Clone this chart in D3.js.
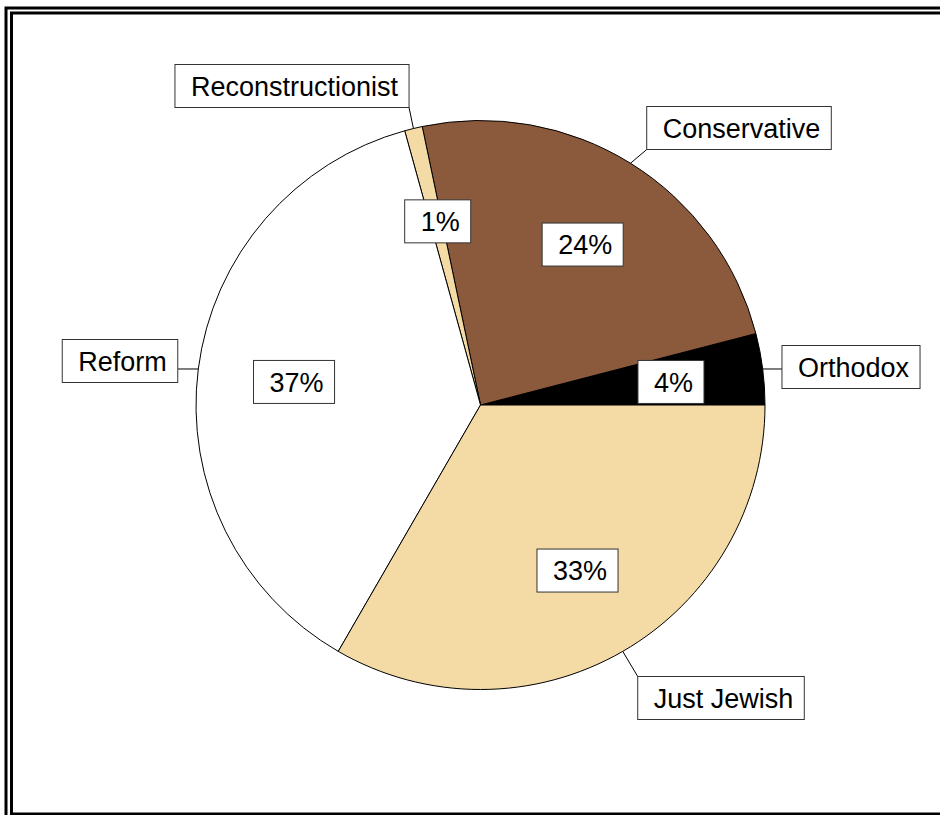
<!DOCTYPE html>
<html>
<head>
<meta charset="utf-8">
<script src="https://cdn.jsdelivr.net/npm/d3@7"></script>
<style>
  html, body { margin: 0; padding: 0; background: #fff; }
  svg { display: block; }
</style>
</head>
<body>
<svg id="chart" width="940" height="815"></svg>
<script>
// Denominations, in drawing order (counter-clockwise from 3 o'clock)
const categories = ["Orthodox", "Conservative", "Reconstructionist", "Reform", "Just Jewish"];
const values = [4, 24, 1, 37, 33];
const valueLabels = ["4%", "24%", "1%", "37%", "33%"];

// Presentation
const colors = ["#000000", "#8B5A3C", "#F4DBA6", "#FFFFFF", "#F4DBA6"];
const nameBoxCenters = [[851, 367], [739, 128], [292, 86], [120, 361], [721, 698]];

const W = 940, H = 815;
const cx = 480.5, cy = 405, R = 284.5;
const fontSize = 27, boxH = 43;

const svg = d3.select("#chart");

// Double frame
svg.append("rect").attr("x", 6).attr("y", 8).attr("width", W + 20).attr("height", H + 20)
  .attr("fill", "none").attr("stroke", "#000").attr("stroke-width", 3);
svg.append("rect").attr("x", 11.5).attr("y", 13).attr("width", W + 20).attr("height", 801)
  .attr("fill", "none").attr("stroke", "#000").attr("stroke-width", 3);

const pie = d3.pie().sort(null)
  .startAngle(Math.PI / 2)
  .endAngle(Math.PI / 2 - 2 * Math.PI);
const arcs = pie(values);

const arc = d3.arc().innerRadius(0).outerRadius(R);
const labelArc = d3.arc().innerRadius(190).outerRadius(190);
const edgeArc = d3.arc().innerRadius(R).outerRadius(R);

const g = svg.append("g").attr("transform", `translate(${cx},${cy})`);

g.selectAll("path.slice").data(arcs).enter().append("path")
  .attr("class", "slice")
  .attr("d", arc)
  .attr("fill", (d, i) => colors[i])
  .attr("stroke", "#000")
  .attr("stroke-width", 1);

// Labelled box helper: returns the box rectangle in page coordinates
function labelBox(parent, text, centerX, centerY) {
  const grp = parent.append("g");
  const rect = grp.append("rect");
  const t = grp.append("text")
    .attr("font-family", "'Liberation Sans', Arial, sans-serif")
    .attr("font-size", fontSize)
    .attr("fill", "#000")
    .text(text);
  const len = t.node().getComputedTextLength();
  const w = len + 27;
  const x0 = centerX - w / 2, y0 = centerY - boxH / 2;
  rect.attr("x", x0).attr("y", y0).attr("width", w).attr("height", boxH)
    .attr("fill", "#fff").attr("stroke", "#333").attr("stroke-width", 1);
  t.attr("x", x0 + 16).attr("y", y0 + boxH / 2 + 0.358 * fontSize);
  return { x0, y0, x1: x0 + w, y1: y0 + boxH };
}

// Category boxes with leader lines to the slice edge
const leaders = svg.append("g");
const names = svg.append("g");
arcs.forEach((d, i) => {
  const [bx, by] = nameBoxCenters[i];
  const box = labelBox(names, categories[i], bx, by);
  const [ex, ey] = edgeArc.centroid(d);
  const px = cx + ex, py = cy + ey;
  const qx = Math.max(box.x0, Math.min(box.x1, px));
  const qy = Math.max(box.y0, Math.min(box.y1, py));
  leaders.append("line")
    .attr("x1", px).attr("y1", py).attr("x2", qx).attr("y2", qy)
    .attr("stroke", "#000").attr("stroke-width", 1);
});

// Percentage boxes inside the slices
const pct = svg.append("g");
arcs.forEach((d, i) => {
  const [lx, ly] = labelArc.centroid(d);
  labelBox(pct, valueLabels[i], cx + lx + 2, cy + ly + 1);
});
</script>
</body>
</html>
